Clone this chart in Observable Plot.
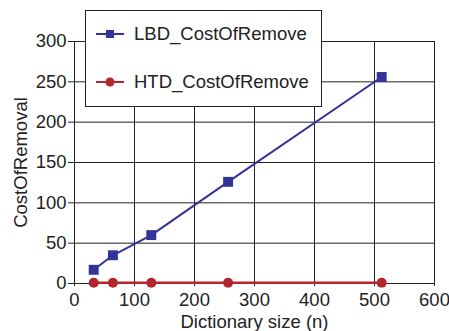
<!DOCTYPE html>
<html>
<head>
<meta charset="utf-8">
<script src="https://cdn.jsdelivr.net/npm/d3@7"></script>
<script src="https://cdn.jsdelivr.net/npm/@observablehq/plot@0.6"></script>
<style>
  html, body { margin: 0; padding: 0; background: white; }
  #wrap { position: relative; width: 449px; height: 331px; font-family: "Liberation Sans", Arial, sans-serif; }
  #legend { position: absolute; left: 85px; top: 10px; width: 235px; height: 95px; border: 1px solid #222; background: white; }
  .item { position: absolute; left: 0; height: 22px; font-size: 18.5px; color: #222; display: flex; align-items: center; }
  .item svg { margin-left: 10px; margin-right: 10px; }
</style>
</head>
<body>
<div id="wrap">
  <div id="chart"></div>
  <div id="legend">
    <div class="item" style="top:12px">
      <svg width="28" height="12"><line x1="0" y1="6" x2="28" y2="6" stroke="#333399" stroke-width="2"/><rect x="10" y="2" width="8" height="8" fill="#333399"/></svg>
      <span>LBD_CostOfRemove</span>
    </div>
    <div class="item" style="top:60px">
      <svg width="28" height="12"><line x1="0" y1="6" x2="28" y2="6" stroke="#b3262e" stroke-width="2"/><circle cx="14" cy="6" r="4.5" fill="#b3262e"/></svg>
      <span>HTD_CostOfRemove</span>
    </div>
  </div>
</div>
<script>
const sizes = [32, 64, 128, 256, 512];
const lbdCost = [17, 35, 60, 126, 256];
const htdCost = [1, 1, 1, 1, 1];
const xTicks = [0, 100, 200, 300, 400, 500, 600];
const yTicks = [0, 50, 100, 150, 200, 250, 300];

const lbd = sizes.map((n, i) => ({n, v: lbdCost[i]}));
const htd = sizes.map((n, i) => ({n, v: htdCost[i]}));

const chart = Plot.plot({
  width: 449,
  height: 331,
  marginLeft: 74,
  marginRight: 15,
  marginTop: 41,
  marginBottom: 48,
  style: { fontFamily: "Liberation Sans, Arial, sans-serif", fontSize: "18.5px", color: "#222", background: "white", overflow: "visible" },
  x: { domain: [0, 600] },
  y: { domain: [0, 300] },
  marks: [
    Plot.gridX(xTicks, { stroke: "#222", strokeOpacity: 1, strokeWidth: 1 }),
    Plot.gridY(yTicks, { stroke: "#222", strokeOpacity: 1, strokeWidth: 1 }),
    Plot.axisY(yTicks, { tickSize: 6, tickPadding: 2, fontSize: 18.5, label: "CostOfRemoval", labelAnchor: "center", labelOffset: 61, labelArrow: "none" }),
    Plot.axisX(xTicks, { tickSize: 3, tickPadding: 6, fontSize: 18.5, label: "Dictionary size (n)", labelAnchor: "center", labelOffset: 44, labelArrow: "none" }),
    Plot.line(htd, { x: "n", y: "v", stroke: "#b3262e", strokeWidth: 2.5 }),
    Plot.dot(htd, { x: "n", y: "v", r: 5, fill: "#b3262e", symbol: "circle" }),
    Plot.line(lbd, { x: "n", y: "v", stroke: "#333399", strokeWidth: 2 }),
    Plot.dot(lbd, { x: "n", y: "v", r: 5.6, fill: "#333399", symbol: "square" })
  ]
});
document.getElementById("chart").appendChild(chart);
</script>
</body>
</html>
